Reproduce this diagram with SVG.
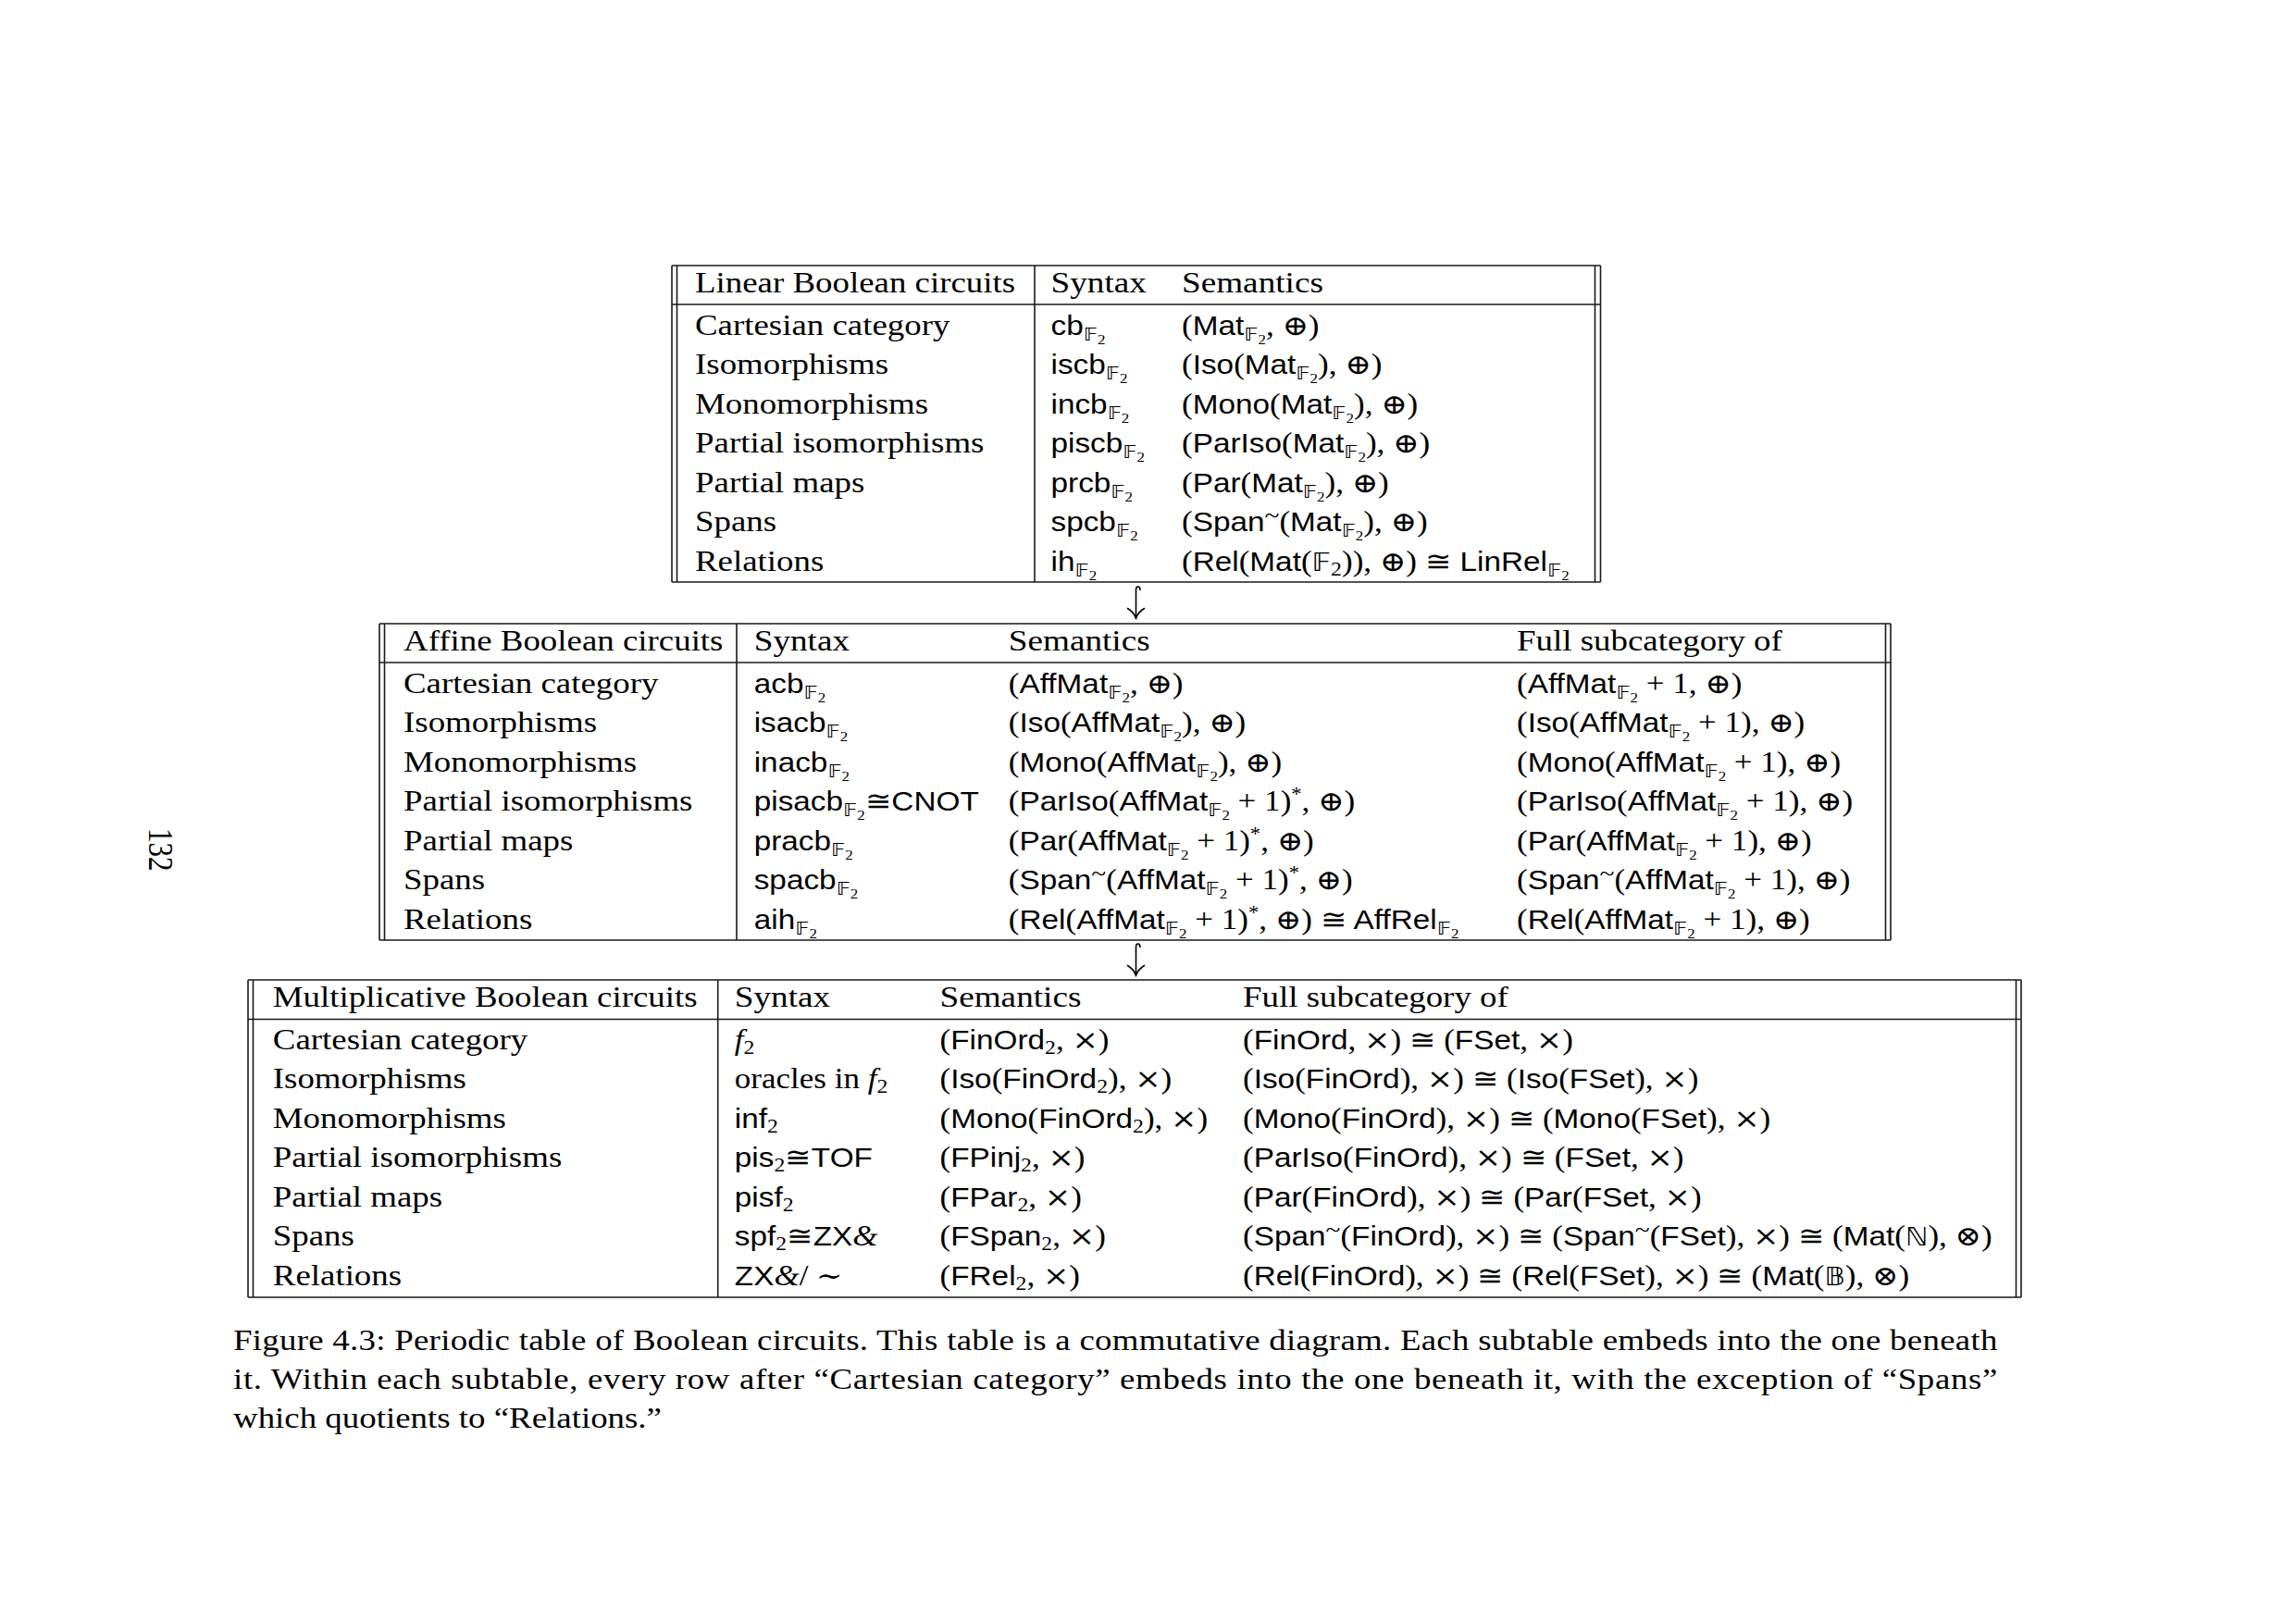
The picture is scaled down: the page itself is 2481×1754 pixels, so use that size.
<svg xmlns="http://www.w3.org/2000/svg" width="2481" height="1754" viewBox="0 0 2481 1754">
<style>
.rule{stroke:#1a1a1a;stroke-width:1.6;fill:none}
.arrow{stroke:#000;stroke-width:1.6;fill:none;stroke-linecap:round}
.rm{font-family:"Liberation Serif","DejaVu Serif",serif;font-size:31px;fill:#000}
.sf{font-family:"Liberation Sans","DejaVu Sans",sans-serif;font-size:29.5px;fill:#000}
.m{font-family:"Liberation Serif","DejaVu Serif",serif;font-size:31px}
.op{font-family:"DejaVu Serif",serif;font-size:30px}
.bb{font-family:"DejaVu Sans",sans-serif;font-size:20px}
.bbf{font-family:"DejaVu Sans",sans-serif;font-size:27px}
.s1{font-family:"Liberation Serif",serif;font-size:21px}
.s2{font-family:"Liberation Serif",serif;font-size:15px}
.sup{font-family:"Liberation Serif",serif;font-size:20px}
.tl{font-family:"Liberation Serif",serif;font-size:26px}
.it{font-style:italic}
</style>
<rect x="0" y="0" width="2481" height="1754" fill="#fff"/>

<g id="table-linear">
<g class="rule">
<path d="M726 287H1729.5M726 329H1729.5M726 629H1729.5"/>
<path d="M726 287V629M731.5 287V629M1118 287V629M1723.5 287V629M1729.5 287V629"/>
</g>
<g class="rm" transform="translate(751 0) scale(1.19 1)">
<text y="316">Linear Boolean circuits</text>
<text y="362">Cartesian category</text>
<text y="404.5">Isomorphisms</text>
<text y="447">Monomorphisms</text>
<text y="489.5">Partial isomorphisms</text>
<text y="532">Partial maps</text>
<text y="574.5">Spans</text>
<text y="617">Relations</text>
</g>
<text class="rm" transform="translate(1135.5 316) scale(1.2 1)">Syntax</text>
<text class="rm" transform="translate(1277 316) scale(1.2 1)">Semantics</text>
<g class="sf" transform="translate(1135.5 0) scale(1.13 1)">
<text y="362">cb<tspan class="bb" dy="6">𝔽</tspan><tspan class="s2" dy="4">2</tspan></text>
<text y="404.5">iscb<tspan class="bb" dy="6">𝔽</tspan><tspan class="s2" dy="4">2</tspan></text>
<text y="447">incb<tspan class="bb" dy="6">𝔽</tspan><tspan class="s2" dy="4">2</tspan></text>
<text y="489.5">piscb<tspan class="bb" dy="6">𝔽</tspan><tspan class="s2" dy="4">2</tspan></text>
<text y="532">prcb<tspan class="bb" dy="6">𝔽</tspan><tspan class="s2" dy="4">2</tspan></text>
<text y="574.5">spcb<tspan class="bb" dy="6">𝔽</tspan><tspan class="s2" dy="4">2</tspan></text>
<text y="617">ih<tspan class="bb" dy="6">𝔽</tspan><tspan class="s2" dy="4">2</tspan></text>
</g>
<g class="sf" transform="translate(1277 0) scale(1.13 1)">
<text y="362"><tspan class="m">(</tspan>Mat<tspan class="bb" dy="6">𝔽</tspan><tspan class="s2" dy="4">2</tspan><tspan class="m" dy="-10">, </tspan><tspan class="op">⊕</tspan><tspan class="m">)</tspan></text>
<text y="404.5"><tspan class="m">(</tspan>Iso<tspan class="m">(</tspan>Mat<tspan class="bb" dy="6">𝔽</tspan><tspan class="s2" dy="4">2</tspan><tspan class="m" dy="-10">), </tspan><tspan class="op">⊕</tspan><tspan class="m">)</tspan></text>
<text y="447"><tspan class="m">(</tspan>Mono<tspan class="m">(</tspan>Mat<tspan class="bb" dy="6">𝔽</tspan><tspan class="s2" dy="4">2</tspan><tspan class="m" dy="-10">), </tspan><tspan class="op">⊕</tspan><tspan class="m">)</tspan></text>
<text y="489.5"><tspan class="m">(</tspan>ParIso<tspan class="m">(</tspan>Mat<tspan class="bb" dy="6">𝔽</tspan><tspan class="s2" dy="4">2</tspan><tspan class="m" dy="-10">), </tspan><tspan class="op">⊕</tspan><tspan class="m">)</tspan></text>
<text y="532"><tspan class="m">(</tspan>Par<tspan class="m">(</tspan>Mat<tspan class="bb" dy="6">𝔽</tspan><tspan class="s2" dy="4">2</tspan><tspan class="m" dy="-10">), </tspan><tspan class="op">⊕</tspan><tspan class="m">)</tspan></text>
<text y="574.5"><tspan class="m">(</tspan>Span<tspan class="tl" dy="-9">~</tspan><tspan class="m" dy="9">(</tspan>Mat<tspan class="bb" dy="6">𝔽</tspan><tspan class="s2" dy="4">2</tspan><tspan class="m" dy="-10">), </tspan><tspan class="op">⊕</tspan><tspan class="m">)</tspan></text>
<text y="617"><tspan class="m">(</tspan>Rel<tspan class="m">(</tspan>Mat<tspan class="m">(</tspan><tspan class="bbf">𝔽</tspan><tspan class="s1" dy="5">2</tspan><tspan class="m" dy="-5">)), </tspan><tspan class="op">⊕</tspan><tspan class="m">) </tspan><tspan class="op">≅</tspan> LinRel<tspan class="bb" dy="6">𝔽</tspan><tspan class="s2" dy="4">2</tspan></text>
</g>
</g>

<g id="table-affine">
<g class="rule">
<path d="M410 674H2043M410 716H2043M410 1016H2043"/>
<path d="M410 674V1016M415.5 674V1016M796 674V1016M2037.5 674V1016M2043 674V1016"/>
</g>
<g class="rm" transform="translate(436 0) scale(1.19 1)">
<text y="703">Affine Boolean circuits</text>
<text y="749">Cartesian category</text>
<text y="791.5">Isomorphisms</text>
<text y="834">Monomorphisms</text>
<text y="876.5">Partial isomorphisms</text>
<text y="919">Partial maps</text>
<text y="961.5">Spans</text>
<text y="1004">Relations</text>
</g>
<text class="rm" transform="translate(814.7 703) scale(1.2 1)">Syntax</text>
<text class="rm" transform="translate(1089.8 703) scale(1.2 1)">Semantics</text>
<text class="rm" transform="translate(1639 703) scale(1.19 1)">Full subcategory of</text>
<g class="sf" transform="translate(814.7 0) scale(1.13 1)">
<text y="749">acb<tspan class="bb" dy="6">𝔽</tspan><tspan class="s2" dy="4">2</tspan></text>
<text y="791.5">isacb<tspan class="bb" dy="6">𝔽</tspan><tspan class="s2" dy="4">2</tspan></text>
<text y="834">inacb<tspan class="bb" dy="6">𝔽</tspan><tspan class="s2" dy="4">2</tspan></text>
<text y="876.5">pisacb<tspan class="bb" dy="6">𝔽</tspan><tspan class="s2" dy="4">2</tspan><tspan class="op" dy="-10">≅</tspan>CNOT</text>
<text y="919">pracb<tspan class="bb" dy="6">𝔽</tspan><tspan class="s2" dy="4">2</tspan></text>
<text y="961.5">spacb<tspan class="bb" dy="6">𝔽</tspan><tspan class="s2" dy="4">2</tspan></text>
<text y="1004">aih<tspan class="bb" dy="6">𝔽</tspan><tspan class="s2" dy="4">2</tspan></text>
</g>
<g class="sf" transform="translate(1089.8 0) scale(1.13 1)">
<text y="749"><tspan class="m">(</tspan>AffMat<tspan class="bb" dy="6">𝔽</tspan><tspan class="s2" dy="4">2</tspan><tspan class="m" dy="-10">, </tspan><tspan class="op">⊕</tspan><tspan class="m">)</tspan></text>
<text y="791.5"><tspan class="m">(</tspan>Iso<tspan class="m">(</tspan>AffMat<tspan class="bb" dy="6">𝔽</tspan><tspan class="s2" dy="4">2</tspan><tspan class="m" dy="-10">), </tspan><tspan class="op">⊕</tspan><tspan class="m">)</tspan></text>
<text y="834"><tspan class="m">(</tspan>Mono<tspan class="m">(</tspan>AffMat<tspan class="bb" dy="6">𝔽</tspan><tspan class="s2" dy="4">2</tspan><tspan class="m" dy="-10">), </tspan><tspan class="op">⊕</tspan><tspan class="m">)</tspan></text>
<text y="876.5"><tspan class="m">(</tspan>ParIso<tspan class="m">(</tspan>AffMat<tspan class="bb" dy="6">𝔽</tspan><tspan class="s2" dy="4">2</tspan><tspan class="m" dy="-10"> + 1)</tspan><tspan class="sup" dy="-11">*</tspan><tspan class="m" dy="11">, </tspan><tspan class="op">⊕</tspan><tspan class="m">)</tspan></text>
<text y="919"><tspan class="m">(</tspan>Par<tspan class="m">(</tspan>AffMat<tspan class="bb" dy="6">𝔽</tspan><tspan class="s2" dy="4">2</tspan><tspan class="m" dy="-10"> + 1)</tspan><tspan class="sup" dy="-11">*</tspan><tspan class="m" dy="11">, </tspan><tspan class="op">⊕</tspan><tspan class="m">)</tspan></text>
<text y="961.5"><tspan class="m">(</tspan>Span<tspan class="tl" dy="-9">~</tspan><tspan class="m" dy="9">(</tspan>AffMat<tspan class="bb" dy="6">𝔽</tspan><tspan class="s2" dy="4">2</tspan><tspan class="m" dy="-10"> + 1)</tspan><tspan class="sup" dy="-11">*</tspan><tspan class="m" dy="11">, </tspan><tspan class="op">⊕</tspan><tspan class="m">)</tspan></text>
<text y="1004"><tspan class="m">(</tspan>Rel<tspan class="m">(</tspan>AffMat<tspan class="bb" dy="6">𝔽</tspan><tspan class="s2" dy="4">2</tspan><tspan class="m" dy="-10"> + 1)</tspan><tspan class="sup" dy="-11">*</tspan><tspan class="m" dy="11">, </tspan><tspan class="op">⊕</tspan><tspan class="m">) </tspan><tspan class="op">≅</tspan> AffRel<tspan class="bb" dy="6">𝔽</tspan><tspan class="s2" dy="4">2</tspan></text>
</g>
<g class="sf" transform="translate(1639 0) scale(1.13 1)">
<text y="749"><tspan class="m">(</tspan>AffMat<tspan class="bb" dy="6">𝔽</tspan><tspan class="s2" dy="4">2</tspan><tspan class="m" dy="-10"> + 1, </tspan><tspan class="op">⊕</tspan><tspan class="m">)</tspan></text>
<text y="791.5"><tspan class="m">(</tspan>Iso<tspan class="m">(</tspan>AffMat<tspan class="bb" dy="6">𝔽</tspan><tspan class="s2" dy="4">2</tspan><tspan class="m" dy="-10"> + 1), </tspan><tspan class="op">⊕</tspan><tspan class="m">)</tspan></text>
<text y="834"><tspan class="m">(</tspan>Mono<tspan class="m">(</tspan>AffMat<tspan class="bb" dy="6">𝔽</tspan><tspan class="s2" dy="4">2</tspan><tspan class="m" dy="-10"> + 1), </tspan><tspan class="op">⊕</tspan><tspan class="m">)</tspan></text>
<text y="876.5"><tspan class="m">(</tspan>ParIso<tspan class="m">(</tspan>AffMat<tspan class="bb" dy="6">𝔽</tspan><tspan class="s2" dy="4">2</tspan><tspan class="m" dy="-10"> + 1), </tspan><tspan class="op">⊕</tspan><tspan class="m">)</tspan></text>
<text y="919"><tspan class="m">(</tspan>Par<tspan class="m">(</tspan>AffMat<tspan class="bb" dy="6">𝔽</tspan><tspan class="s2" dy="4">2</tspan><tspan class="m" dy="-10"> + 1), </tspan><tspan class="op">⊕</tspan><tspan class="m">)</tspan></text>
<text y="961.5"><tspan class="m">(</tspan>Span<tspan class="tl" dy="-9">~</tspan><tspan class="m" dy="9">(</tspan>AffMat<tspan class="bb" dy="6">𝔽</tspan><tspan class="s2" dy="4">2</tspan><tspan class="m" dy="-10"> + 1), </tspan><tspan class="op">⊕</tspan><tspan class="m">)</tspan></text>
<text y="1004"><tspan class="m">(</tspan>Rel<tspan class="m">(</tspan>AffMat<tspan class="bb" dy="6">𝔽</tspan><tspan class="s2" dy="4">2</tspan><tspan class="m" dy="-10"> + 1), </tspan><tspan class="op">⊕</tspan><tspan class="m">)</tspan></text>
</g>
</g>

<g id="table-multiplicative">
<g class="rule">
<path d="M268 1059H2184M268 1101.5H2184M268 1402H2184"/>
<path d="M268 1059V1402M273.5 1059V1402M775.7 1059V1402M2178.5 1059V1402M2184 1059V1402"/>
</g>
<g class="rm" transform="translate(294.8 0) scale(1.19 1)">
<text y="1088">Multiplicative Boolean circuits</text>
<text y="1134">Cartesian category</text>
<text y="1176.5">Isomorphisms</text>
<text y="1219">Monomorphisms</text>
<text y="1261.5">Partial isomorphisms</text>
<text y="1304">Partial maps</text>
<text y="1346.5">Spans</text>
<text y="1389">Relations</text>
</g>
<text class="rm" transform="translate(793.8 1088) scale(1.2 1)">Syntax</text>
<text class="rm" transform="translate(1015.5 1088) scale(1.2 1)">Semantics</text>
<text class="rm" transform="translate(1343 1088) scale(1.19 1)">Full subcategory of</text>
<g class="sf" transform="translate(793.8 0) scale(1.13 1)">
<text y="1134"><tspan class="m it">f</tspan><tspan class="s1" dy="5">2</tspan></text>
<text y="1176.5"><tspan class="m">oracles in </tspan><tspan class="m it">f</tspan><tspan class="s1" dy="5">2</tspan></text>
<text y="1219">inf<tspan class="s1" dy="5">2</tspan></text>
<text y="1261.5">pis<tspan class="s1" dy="5">2</tspan><tspan class="op" dy="-5">≅</tspan>TOF</text>
<text y="1304">pisf<tspan class="s1" dy="5">2</tspan></text>
<text y="1346.5">spf<tspan class="s1" dy="5">2</tspan><tspan class="op" dy="-5">≅</tspan>ZX<tspan class="m it">&amp;</tspan></text>
<text y="1389">ZX<tspan class="m it">&amp;</tspan><tspan class="m">/ </tspan><tspan class="op">∼</tspan></text>
</g>
<g class="sf" transform="translate(1015.5 0) scale(1.13 1)">
<text y="1134"><tspan class="m">(</tspan>FinOrd<tspan class="s1" dy="5">2</tspan><tspan class="m" dy="-5">, </tspan><tspan class="op">×</tspan><tspan class="m">)</tspan></text>
<text y="1176.5"><tspan class="m">(</tspan>Iso<tspan class="m">(</tspan>FinOrd<tspan class="s1" dy="5">2</tspan><tspan class="m" dy="-5">), </tspan><tspan class="op">×</tspan><tspan class="m">)</tspan></text>
<text y="1219"><tspan class="m">(</tspan>Mono<tspan class="m">(</tspan>FinOrd<tspan class="s1" dy="5">2</tspan><tspan class="m" dy="-5">), </tspan><tspan class="op">×</tspan><tspan class="m">)</tspan></text>
<text y="1261.5"><tspan class="m">(</tspan>FPinj<tspan class="s1" dy="5">2</tspan><tspan class="m" dy="-5">, </tspan><tspan class="op">×</tspan><tspan class="m">)</tspan></text>
<text y="1304"><tspan class="m">(</tspan>FPar<tspan class="s1" dy="5">2</tspan><tspan class="m" dy="-5">, </tspan><tspan class="op">×</tspan><tspan class="m">)</tspan></text>
<text y="1346.5"><tspan class="m">(</tspan>FSpan<tspan class="s1" dy="5">2</tspan><tspan class="m" dy="-5">, </tspan><tspan class="op">×</tspan><tspan class="m">)</tspan></text>
<text y="1389"><tspan class="m">(</tspan>FRel<tspan class="s1" dy="5">2</tspan><tspan class="m" dy="-5">, </tspan><tspan class="op">×</tspan><tspan class="m">)</tspan></text>
</g>
<g class="sf" transform="translate(1343 0) scale(1.13 1)">
<text y="1134"><tspan class="m">(</tspan>FinOrd<tspan class="m">, </tspan><tspan class="op">×</tspan><tspan class="m">) </tspan><tspan class="op">≅</tspan><tspan class="m"> (</tspan>FSet<tspan class="m">, </tspan><tspan class="op">×</tspan><tspan class="m">)</tspan></text>
<text y="1176.5"><tspan class="m">(</tspan>Iso<tspan class="m">(</tspan>FinOrd<tspan class="m">), </tspan><tspan class="op">×</tspan><tspan class="m">) </tspan><tspan class="op">≅</tspan><tspan class="m"> (</tspan>Iso<tspan class="m">(</tspan>FSet<tspan class="m">), </tspan><tspan class="op">×</tspan><tspan class="m">)</tspan></text>
<text y="1219"><tspan class="m">(</tspan>Mono<tspan class="m">(</tspan>FinOrd<tspan class="m">), </tspan><tspan class="op">×</tspan><tspan class="m">) </tspan><tspan class="op">≅</tspan><tspan class="m"> (</tspan>Mono<tspan class="m">(</tspan>FSet<tspan class="m">), </tspan><tspan class="op">×</tspan><tspan class="m">)</tspan></text>
<text y="1261.5"><tspan class="m">(</tspan>ParIso<tspan class="m">(</tspan>FinOrd<tspan class="m">), </tspan><tspan class="op">×</tspan><tspan class="m">) </tspan><tspan class="op">≅</tspan><tspan class="m"> (</tspan>FSet<tspan class="m">, </tspan><tspan class="op">×</tspan><tspan class="m">)</tspan></text>
<text y="1304"><tspan class="m">(</tspan>Par<tspan class="m">(</tspan>FinOrd<tspan class="m">), </tspan><tspan class="op">×</tspan><tspan class="m">) </tspan><tspan class="op">≅</tspan><tspan class="m"> (</tspan>Par<tspan class="m">(</tspan>FSet<tspan class="m">, </tspan><tspan class="op">×</tspan><tspan class="m">)</tspan></text>
<text y="1346.5"><tspan class="m">(</tspan>Span<tspan class="tl" dy="-9">~</tspan><tspan class="m" dy="9">(</tspan>FinOrd<tspan class="m">), </tspan><tspan class="op">×</tspan><tspan class="m">) </tspan><tspan class="op">≅</tspan><tspan class="m"> (</tspan>Span<tspan class="tl" dy="-9">~</tspan><tspan class="m" dy="9">(</tspan>FSet<tspan class="m">), </tspan><tspan class="op">×</tspan><tspan class="m">) </tspan><tspan class="op">≅</tspan><tspan class="m"> (</tspan>Mat<tspan class="m">(</tspan><tspan class="bbf">ℕ</tspan><tspan class="m">), </tspan><tspan class="op">⊗</tspan><tspan class="m">)</tspan></text>
<text y="1389"><tspan class="m">(</tspan>Rel<tspan class="m">(</tspan>FinOrd<tspan class="m">), </tspan><tspan class="op">×</tspan><tspan class="m">) </tspan><tspan class="op">≅</tspan><tspan class="m"> (</tspan>Rel<tspan class="m">(</tspan>FSet<tspan class="m">), </tspan><tspan class="op">×</tspan><tspan class="m">) </tspan><tspan class="op">≅</tspan><tspan class="m"> (</tspan>Mat<tspan class="m">(</tspan><tspan class="bbf">𝔹</tspan><tspan class="m">), </tspan><tspan class="op">⊗</tspan><tspan class="m">)</tspan></text>
</g>
</g>

<g id="connectors">
<g id="embed-linear-affine" class="arrow">
<path d="M1232 637.5C1232 635.3 1230.8 634 1229.6 634C1228.3 634 1227.5 635.3 1227.5 637.5V668"/>
<path d="M1218.5 657.5Q1225 661.5 1227.5 668Q1230 661.5 1236.5 657.5"/>
</g>
<g id="embed-affine-multiplicative" class="arrow" transform="translate(0 386)">
<path d="M1232 637.5C1232 635.3 1230.8 634 1229.6 634C1228.3 634 1227.5 635.3 1227.5 637.5V668"/>
<path d="M1218.5 657.5Q1225 661.5 1227.5 668Q1230 661.5 1236.5 657.5"/>
</g>
</g>

<g id="caption" class="rm">
<text transform="translate(252 1459) scale(1.19 1)" textLength="1602" lengthAdjust="spacing">Figure 4.3: Periodic table of Boolean circuits. This table is a commutative diagram. Each subtable embeds into the one beneath</text>
<text transform="translate(252 1501) scale(1.19 1)" textLength="1602" lengthAdjust="spacing">it. Within each subtable, every row after “Cartesian category” embeds into the one beneath it, with the exception of “Spans”</text>
<text transform="translate(252 1543) scale(1.19 1)">which quotients to “Relations.”</text>
</g>

<g id="page-number">
<text class="rm" transform="translate(161 895) rotate(90) scale(1 1.19)">132</text>
</g>
</svg>
